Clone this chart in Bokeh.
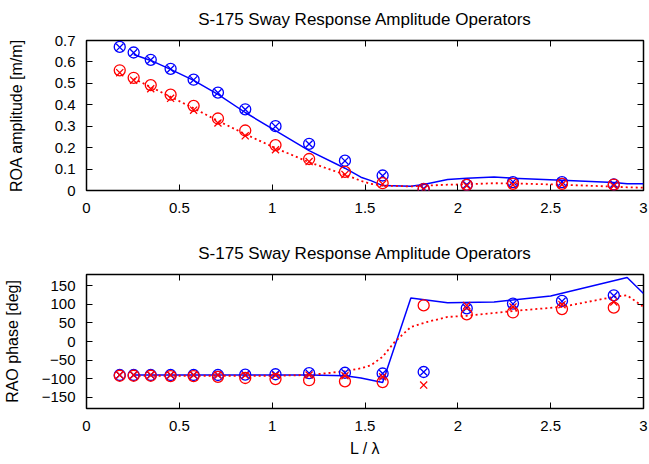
from bokeh.plotting import figure
from bokeh.layouts import column
from bokeh.models import LinearAxis, FixedTicker, Range1d
from bokeh.embed import file_html
from bokeh.resources import INLINE

# ---------------- data ----------------
x_exp = [0.179, 0.254, 0.346, 0.453, 0.577, 0.708, 0.855, 1.018, 1.199, 1.392,
         1.595, 1.816, 2.048, 2.297, 2.561, 2.840]

amp_blue_o = [0.670, 0.644, 0.610, 0.568, 0.517, 0.457, 0.379, 0.300, 0.218, 0.139,
              0.070, 0.008, 0.026, 0.039, 0.039, 0.028]
amp_blue_x = [0.668, 0.643, 0.609, 0.567, 0.516, 0.456, 0.378, 0.299, 0.217, 0.138,
              0.069, 0.009, 0.027, 0.040, 0.040, 0.029]
amp_red_o = [0.561, 0.526, 0.492, 0.447, 0.395, 0.336, 0.280, 0.212, 0.147, 0.087,
             0.034, 0.006, 0.026, 0.031, 0.031, 0.027]
amp_red_x = [0.550, 0.515, 0.475, 0.430, 0.375, 0.315, 0.255, 0.190, 0.135, 0.075,
             0.030, 0.005, 0.022, 0.027, 0.028, 0.022]

ph_blue_o = [-90, -90, -90, -90, -90, -90, -89, -88, -85, -84,
             -86, -82, 89, 102, 109, 124]
ph_blue_x = [-90, -90, -90, -90, -90, -90, -89, -88, -85, -84,
             -86, -82, 90, 101, 108, 123]
ph_red_o = [-92, -92, -92, -93, -93, -95, -98, -101, -104, -107,
            -109, 97, 73, 78, 87, 91]
ph_red_x = [-90, -90, -90, -90, -90, -90, -91, -91, -90, -92,
            -95, -117, 97, 93, 99, 106]

x_line_amp = [0.254, 0.346, 0.453, 0.577, 0.708, 0.855, 1.018, 1.199, 1.392, 1.478,
              1.532, 1.595, 1.747, 1.816, 1.945, 2.048, 2.195, 2.297, 2.561, 2.840,
              2.912, 3.0]
amp_blue_line = [0.635, 0.607, 0.565, 0.514, 0.449, 0.364, 0.279, 0.186, 0.104, 0.062,
                 0.046, 0.023, 0.020, 0.028, 0.051, 0.057, 0.063, 0.057, 0.048, 0.037,
                 0.032, 0.032]
amp_red_line = [0.522, 0.483, 0.437, 0.384, 0.325, 0.263, 0.198, 0.132, 0.074, 0.045,
                0.031, 0.023, 0.019, 0.022, 0.027, 0.029, 0.034, 0.033, 0.027, 0.018,
                0.015, 0.013]

x_line_ph_blue = [0.254, 0.346, 0.453, 0.577, 0.708, 0.855, 1.018, 1.199, 1.392, 1.478,
                  1.595, 1.747, 1.945, 2.195, 2.500, 2.912, 3.0]
ph_blue_line = [-90, -90, -90, -90, -90, -90, -90, -90, -92, -98,
                -110, 117, 104, 106, 122, 172, 129]

x_line_ph_red = [0.254, 0.453, 0.708, 1.018, 1.199, 1.392, 1.478, 1.532, 1.595, 1.660,
                 1.747, 1.838, 1.945, 2.048, 2.297, 2.561, 2.840, 2.912, 3.0]
ph_red_line = [-92, -92, -92, -92, -90, -80, -72, -64, -41, -1,
               39, 53, 66, 69, 82, 93, 120, 124, 93]

x_ticks = [0, 0.5, 1, 1.5, 2, 2.5, 3]
x_tick_labels = ["0", "0.5", "1", "1.5", "2", "2.5", "3"]
amp_ticks = [0, 0.1, 0.2, 0.3, 0.4, 0.5, 0.6, 0.7]
amp_tick_labels = ["0", "0.1", "0.2", "0.3", "0.4", "0.5", "0.6", "0.7"]
ph_ticks = [-150, -100, -50, 0, 50, 100, 150]

title_text = "S-175 Sway Response Amplitude Operators"
BLUE = "#0000ff"
RED = "#ff0000"
FONT = "Liberation Sans"


def style(p, xticks, yticks, ylabel, ylabel_standoff, xlabel=None, ylab_over=None):
    p.grid.visible = False
    p.outline_line_color = "black"
    p.outline_line_width = 1.5
    p.title.text_font = FONT
    p.title.text_font_size = "17px"
    p.title.text_font_style = "normal"
    p.title.align = "center"
    p.title.vertical_align = "top"
    p.title.text_color = "black"
    p.title.standoff = 19
    p.xaxis.ticker = FixedTicker(ticks=xticks)
    p.xaxis.major_label_overrides = dict(zip(x_ticks, x_tick_labels))
    p.yaxis.ticker = FixedTicker(ticks=yticks)
    if ylab_over is not None:
        p.yaxis.major_label_overrides = ylab_over
    for ax in (p.xaxis[0], p.yaxis[0]):
        ax.axis_line_color = None
        ax.major_tick_in = 6
        ax.major_tick_out = 0
        ax.major_tick_line_color = "black"
        ax.major_tick_line_width = 1
        ax.minor_tick_line_color = None
        ax.major_label_text_font = FONT
        ax.major_label_text_font_size = "15px"
        ax.major_label_text_color = "black"
        ax.major_label_standoff = 11
        ax.axis_label_text_font = FONT
        ax.axis_label_text_font_size = "16px"
        ax.axis_label_text_font_style = "normal"
        ax.axis_label_text_color = "black"
    p.xaxis.major_label_standoff = 12
    p.yaxis.axis_label = ylabel
    p.yaxis.axis_label_standoff = ylabel_standoff
    if xlabel:
        p.xaxis.axis_label = xlabel
        p.xaxis.axis_label_standoff = 6
    # mirrored ticks on top and right
    top = LinearAxis(ticker=FixedTicker(ticks=xticks))
    right = LinearAxis(ticker=FixedTicker(ticks=yticks))
    for ax, ticks in ((top, xticks), (right, yticks)):
        ax.axis_line_color = None
        ax.major_tick_in = 6
        ax.major_tick_out = 0
        ax.major_tick_line_color = "black"
        ax.minor_tick_line_color = None
        ax.major_label_overrides = {t: "" for t in ticks}
        ax.major_label_standoff = 0
    p.add_layout(top, "above")
    p.add_layout(right, "right")


def markers(p, x, yo, yx, color):
    p.scatter(x, yo, marker="circle", size=11, fill_color=None,
              line_color=color, line_width=1.3)
    p.scatter(x, yx, marker="x", size=10, line_color=color, line_width=1.3)


# ---------------- top: amplitude ----------------
p1 = figure(width=649, height=229, output_backend="svg", toolbar_location=None,
            x_range=Range1d(0, 3), y_range=Range1d(0, 0.7),
            min_border_left=85, min_border_right=6, min_border_top=39,
            min_border_bottom=39, title=title_text)
style(p1, x_ticks, amp_ticks, "ROA amplitude [m/m]", 27,
      ylab_over=dict(zip(amp_ticks, amp_tick_labels)))
p1.line(x_line_amp, amp_blue_line, line_color=BLUE, line_width=1.5)
p1.line(x_line_amp, amp_red_line, line_color=RED, line_width=1.8, line_dash="2 3")
markers(p1, x_exp, amp_blue_o, amp_blue_x, BLUE)
markers(p1, x_exp, amp_red_o, amp_red_x, RED)

# ---------------- bottom: phase ----------------
p2 = figure(width=649, height=235, output_backend="svg", toolbar_location=None,
            x_range=Range1d(0, 3), y_range=Range1d(-180, 180),
            min_border_left=85, min_border_right=6, min_border_top=45,
            min_border_bottom=56, title=title_text)
style(p2, x_ticks, ph_ticks, "RAO phase [deg]", 18, xlabel="L / λ")
p2.line(x_line_ph_blue, ph_blue_line, line_color=BLUE, line_width=1.5)
p2.line(x_line_ph_red, ph_red_line, line_color=RED, line_width=1.8, line_dash="2 3")
markers(p2, x_exp, ph_blue_o, ph_blue_x, BLUE)
markers(p2, x_exp, ph_red_o, ph_red_x, RED)

layout = column(p1, p2, spacing=0)
open("out.html", "w").write(file_html(layout, INLINE))
